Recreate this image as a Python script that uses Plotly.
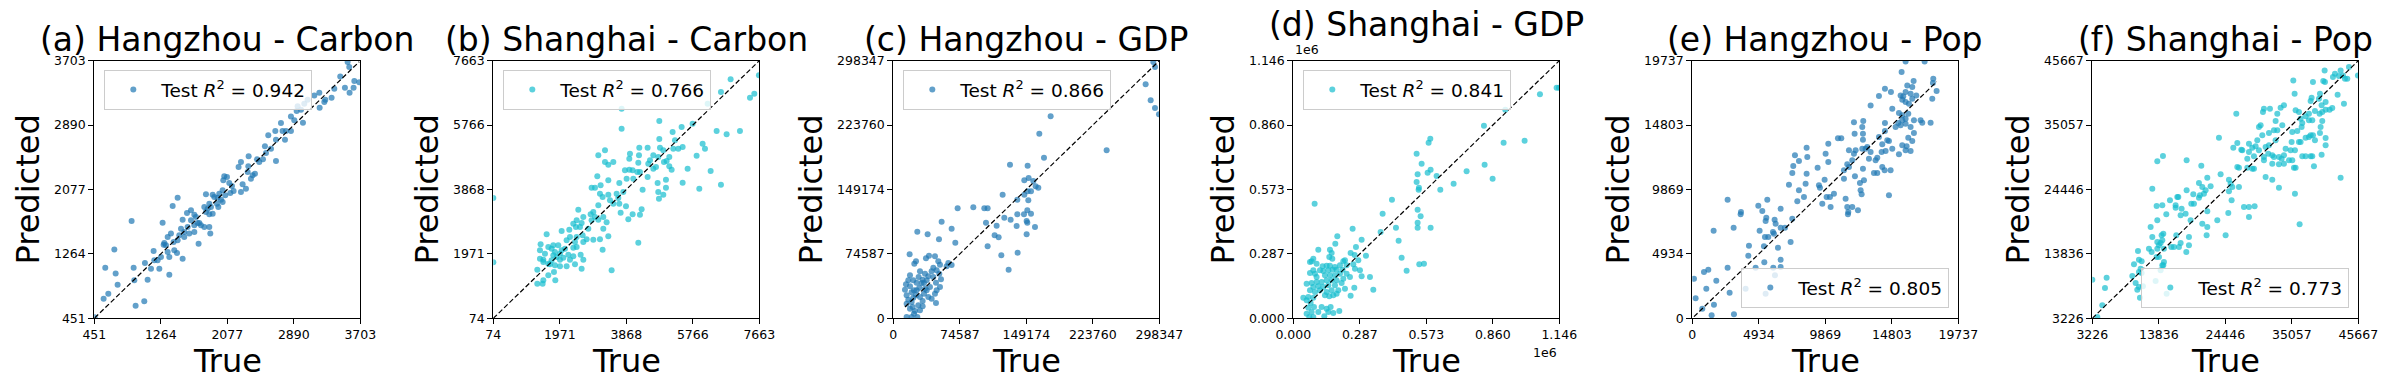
import numpy as np
import plotly.graph_objects as go

FONT = "DejaVu Sans"
BLUE = "#1f77b4"
CYAN = "#17becf"
W, H = 2390, 390

# (a) Hangzhou - Carbon
hz_carbon_true = [3548, 3568, 3458, 3630, 3515, 3621, 3572, 3385, 3352, 3275,
                  3263, 3202, 3141, 3059, 3018, 2937, 2925, 2978, 3206, 3002,
                  2896, 2855, 2733, 2664, 2753, 2794, 2855, 2782, 2672, 2611,
                  2537, 2578, 2550, 2672, 2513, 2468, 2440, 2338, 2244, 2215,
                  2334, 2326, 2387, 2415, 2366, 2264, 2305, 2244, 2040, 2073,
                  2028, 2101, 2134, 2154, 2114, 2052, 2020, 1979, 1959, 1898,
                  1918, 1816, 2000, 2020, 1951, 1967, 1857, 1877, 1837, 1796,
                  1857, 1898, 1816, 1470, 1409, 1633, 1584, 1674, 1694, 1735,
                  1755, 1857, 1796, 1633, 1674, 1714, 1531, 1592, 1511, 1551,
                  1612, 1674, 1551, 1490, 1470, 1421, 1388, 1286, 1348, 1327,
                  1299, 1307, 1429, 1462, 1531, 1368, 1348, 1266, 1225, 1185,
                  1176, 1144, 1246, 1368, 1070, 932, 1103, 940, 907, 696,
                  585, 712, 736, 565, 622, 956, 1062, 455, 1869, 1726, 3690]
hz_carbon_pred = [3686, 3623, 3505, 3446, 3362, 3362, 3299, 3350, 3236, 3211,
                  3181, 3299, 3265, 3211, 3160, 3127, 3068, 3085, 3110, 2920,
                  2950, 3000, 2916, 2815, 2815, 2815, 2815, 2706, 2706, 2592,
                  2622, 2761, 2538, 2437, 2458, 2424, 2458, 2496, 2424, 2361,
                  2369, 2298, 2256, 2277, 2214, 2142, 2088, 2045, 2243, 2235,
                  2193, 2159, 2121, 2058, 2033, 2003, 2066, 2024, 1974, 2012,
                  1982, 2016, 1949, 1919, 1898, 1856, 1898, 1856, 1835, 1856,
                  1764, 1772, 1793, 1974, 1869, 1814, 1780, 1759, 1730, 1654,
                  1625, 1604, 1604, 1688, 1625, 1654, 1696, 1604, 1583, 1541,
                  1520, 1541, 1478, 1499, 1435, 1414, 1520, 1658, 1478, 1372,
                  1381, 1402, 1309, 1276, 1204, 1225, 1288, 1225, 1183, 1183,
                  1301, 1078, 1078, 1002, 1149, 1090, 939, 931, 1679, 1318,
                  1090, 1015, 876, 699, 762, 611, 666, 465, 1520, 1393, 3430]

# (b) Shanghai - Carbon
sh_carbon_true = [7653, 6845, 6569, 7397, 7520, 6189, 3735, 4810, 3735, 5761,
                  5447, 5190, 6446, 6731, 7111, 6046, 6113, 5875, 5618, 6275,
                  6569, 5951, 5476, 5257, 5352, 5476, 5209, 4810, 4829, 4924,
                  5095, 5019, 4943, 5162, 5095, 4781, 4639, 4544, 4496, 4639,
                  4715, 4477, 4239, 3973, 3954, 4230, 4211, 4258, 4182, 4049,
                  3954, 3830, 3878, 4068, 4477, 4334, 4762, 5000, 5000, 4781,
                  4924, 4800, 4306, 4049, 4258, 3926, 3859, 3669, 3707, 3640,
                  3783, 3669, 3593, 3498, 3403, 3355, 3260, 3070, 3260, 3355,
                  3498, 3041, 3355, 2879, 2975, 3136, 3117, 3193, 3070, 2927,
                  2851, 2975, 3070, 3212, 3307, 2879, 2642, 2594, 2452, 2499,
                  2356, 2432, 2547, 2242, 2024, 2784, 2737, 2927, 3117, 3212,
                  3355, 3193, 2623, 2642, 2452, 2404, 2261, 2166, 2452, 2356,
                  2119, 2024, 1976, 1928, 1786, 1738, 1643, 1596, 1424, 1405,
                  1548, 1833, 1786, 1738, 1501, 1405, 1501, 1643, 1881, 1976,
                  2071, 2214, 2261, 2356, 2166, 1976, 1833, 1691, 2566, 2642,
                  2594, 2404, 1805, 1643, 1501, 1481, 1329, 1329, 3450, 4211,
                  74, 74, 1843]
sh_carbon_pred = [7231, 7114, 6740, 6574, 6691, 6397, 6250, 5886, 5660, 5808,
                  5710, 5562, 5592, 5494, 5592, 5219, 5071, 4865, 4482, 4414,
                  4011, 3893, 4070, 5317, 5071, 5120, 5071, 5356, 5101, 5022,
                  4826, 4708, 4679, 4453, 4551, 4826, 4875, 4728, 4630, 4482,
                  4531, 5101, 5101, 4924, 4777, 4875, 4659, 4384, 4384, 4433,
                  4453, 4433, 4188, 4188, 4237, 3864, 4060, 4158, 3923, 3795,
                  3716, 3599, 3284, 3137, 3127, 2990, 3373, 3451, 3186, 3618,
                  3795, 4060, 3746, 3451, 3550, 3716, 5022, 4875, 4679, 4600,
                  4679, 4256, 4139, 3923, 3923, 3991, 3746, 3648, 3402, 3206,
                  3137, 3059, 2980, 3059, 2902, 2960, 3059, 2882, 2960, 3275,
                  2862, 2764, 2764, 2686, 2646, 2715, 2401, 2391, 2401, 2715,
                  2489, 2096, 2519, 2322, 2470, 2322, 2470, 2371, 2175, 2155,
                  2126, 2077, 1979, 2224, 2224, 2126, 2175, 2548, 2254, 2077,
                  1979, 2028, 1930, 1782, 1802, 1831, 1733, 1684, 1881, 1802,
                  1861, 1949, 1802, 1900, 1606, 1606, 1635, 1665, 1949, 1802,
                  1537, 1665, 1439, 1341, 1193, 1095, 1095, 1507, 1488, 2303,
                  3618, 1723, 1193]

# (c) Hangzhou - GDP
hz_gdp_true = [293510, 291642, 283042, 288651, 293512, 298000, 176481, 163768, 239296, 169003,
               130865, 150682, 151803, 146943, 157038, 159655, 162647, 150682, 154421, 146943,
               122639, 139091, 151430, 150308, 154421, 146569, 139091, 131613, 124509, 149560,
               150308, 138343, 158908, 149560, 72163, 89736, 102075, 105814, 103944, 115909,
               113666, 118152, 105814, 121144, 139465, 129369, 54216, 65433, 38512, 26921,
               51224, 69545, 18321, 25425, 23556, 36642, 40007, 46738, 50477, 61694,
               65433, 59824, 52346, 44868, 48607, 42999, 29912, 35521, 39260, 28416,
               51598, 53468, 47859, 44868, 37390, 32903, 31782, 26173, 22434, 18695,
               16826, 14208, 13087, 14956, 20565, 26173, 29164, 34399, 37390, 41129,
               48607, 52346, 46738, 42999, 47859, 39260, 34399, 32903, 22434, 16826,
               14956, 18695, 21686, 24304, 28043, 29912, 32903, 26921, 20565, 14956,
               23182, 20565, 25425, 29912, 35521, 23182, 18695]
hz_gdp_pred = [291044, 296834, 270972, 252444, 243566, 236232, 233916, 213844, 194544, 186052,
               177946, 176788, 162506, 159804, 159032, 152856, 151312, 147066, 147066, 143206,
               143206, 137416, 136644, 125064, 121204, 120432, 120432, 114256, 116572, 112712,
               110782, 106922, 105764, 97272, 127380, 128538, 127380, 127380, 110782, 107308,
               96114, 93798, 83376, 72954, 76042, 56356, 111940, 103834, 97272, 100360,
               91482, 87622, 74112, 66006, 63304, 69480, 72568, 71796, 66006, 64076,
               61760, 60216, 62146, 58672, 55584, 54426, 54426, 51724, 48636, 47864,
               51724, 45162, 41302, 47864, 44004, 44776, 40916, 41302, 44004, 49794,
               44004, 39372, 33196, 26634, 30108, 32424, 35512, 40916, 32424, 36284,
               32424, 36284, 28564, 22774, 17756, 24704, 28564, 20072, 23932, 21616,
               16984, 11194, 13124, 8492, 15054, 9264, 13896, 1544, 1544, 1544,
               5404, 18914, 26634, 24704, 34354, 32424, 37056]

# (d) Shanghai - GDP
sh_gdp_true = [1134440, 1144492, 1062640, 913296, 821392, 590196, 583016, 906116, 996584, 531320,
               552860, 535628, 591632, 578708, 617480, 531320, 541372, 539936, 633276, 690716,
               746720, 824264, 858728, 425056, 535628, 548552, 535628, 535628, 591632, 384848,
               442288, 376232, 453776, 466700, 488240, 542808, 562912, 91904, 255608, 189552,
               180936, 269968, 294380, 313048, 264224, 246992, 280020, 258480, 265660, 287200,
               294380, 330280, 344640, 246992, 262788, 157960, 165140, 155088, 168012, 107700,
               86160, 78980, 71800, 86160, 100520, 126368, 143600, 157960, 179500, 201040,
               215400, 222580, 229760, 212528, 186680, 169448, 150780, 129240, 114880, 93340,
               71800, 100520, 136420, 157960, 179500, 201040, 229760, 244120, 215400, 186680,
               165140, 143600, 122060, 100520, 78980, 57440, 86160, 107700, 129240, 150780,
               179500, 208220, 222580, 193860, 165140, 143600, 114880, 93340, 71800, 64620,
               86160, 136420, 155088, 172320, 186680, 43080, 57440, 74672, 89032, 64620,
               78980, 57440, 86160, 68928, 133548, 122060, 143600, 160832, 172320, 198168,
               150780, 107700]
sh_gdp_pred = [1025890, 1025890, 996240, 928045, 856885, 799068, 781278, 781278, 790173, 732355,
               687880, 640440, 661195, 647853, 633028, 606343, 581140, 572245, 572245, 598930,
               653783, 683433, 621168, 527770, 483295, 453645, 425478, 403240, 403240, 465505,
               403240, 383968, 345423, 269815, 212000, 240165, 243130, 509980, 398793, 364695,
               332080, 317255, 349870, 278710, 281675, 290570, 257955, 240165, 220893, 213480,
               186795, 183830, 127495, 100810, 136390, 305395, 290570, 272780, 265368, 305395,
               265368, 253508, 250543, 213480, 243130, 231270, 234235, 234235, 228305, 235718,
               253508, 257955, 235718, 216445, 216445, 216445, 213480, 210515, 213480, 198655,
               201620, 183830, 191243, 191243, 191243, 198655, 198655, 183830, 176418, 169005,
               169005, 169005, 161593, 161593, 157145, 154180, 139355, 142320, 139355, 146768,
               146768, 157145, 131943, 124530, 124530, 117118, 124530, 117118, 124530, 94880,
               91915, 102293, 97845, 102293, 109705, 91915, 80055, 68195, 50405, 47440,
               28168, 20755, 5930, 5930, 8895, 50405, 42993, 50405, 23720, 32615,
               28168, 28168]

# (e) Hangzhou - Pop
hz_pop_true = [15827, 17237, 15530, 17880, 17855, 18127, 17806, 16421, 15951, 16322,
               16619, 16198, 15827, 15654, 15456, 15580, 15827, 16075, 16322, 14294,
               14739, 13849, 13231, 14838, 15333, 15580, 16025, 15827, 15580, 15283,
               15085, 15456, 15827, 16445, 16940, 17064, 17682, 16198, 16445, 16025,
               16322, 15901, 15580, 15827, 16198, 15333, 14838, 14467, 14591, 14294,
               14294, 13849, 14096, 14343, 14047, 13725, 13602, 14096, 14269, 14714,
               13725, 13478, 13107, 12983, 13231, 12860, 12612, 12662, 12662, 12612,
               12686, 11994, 12044, 12118, 11623, 11994, 11870, 11623, 11252, 11499,
               12662, 12736, 12068, 11252, 12489, 12563, 12439, 14591, 10807, 11054,
               10090, 9892, 10090, 9298, 8482, 8532, 7617, 7914, 7493, 7419,
               8482, 7172, 7914, 8408, 8285, 7790, 9397, 9472, 9818, 10510,
               10213, 9966, 9645, 10263, 11376, 11499, 11574, 11549, 11870, 12291,
               6553, 6108, 5490, 5441, 5193, 4897, 5564, 3611, 3586, 2621,
               3067, 1583, 6183, 7419, 6875, 6553, 5985, 6059, 4995, 5391,
               5638, 6356, 5317, 4204, 4155, 6553, 6553, 5342, 4699, 6009,
               7295, 6133, 2621, 1187, 866, 1781, 1039, 2770, 247, 1607,
               742, 1434, 3091, 124, 5441, 3957]
hz_pop_pred = [19684, 19684, 18867, 18356, 18024, 17411, 16824, 18177, 17845, 17718,
               17080, 17207, 17335, 17003, 17080, 16748, 16569, 16441, 16824, 17590,
               17335, 17029, 16314, 16058, 15726, 15548, 15675, 15292, 15165, 14961,
               14654, 14782, 14910, 15165, 15165, 14986, 14986, 14654, 14195, 13837,
               13582, 13173, 13250, 12867, 12816, 12561, 12995, 13633, 13582, 14961,
               14348, 13888, 13327, 12816, 12739, 12305, 12101, 11591, 11335, 11335,
               11131, 11131, 12229, 13122, 12739, 12995, 12995, 13684, 14144, 14654,
               15114, 15012, 14144, 12867, 12867, 12612, 12101, 11591, 11335, 11795,
               11463, 10569, 10876, 10697, 9804, 9497, 10365, 9421, 13786, 13786,
               13378, 12612, 11974, 11540, 13071, 12357, 12484, 12050, 11667, 11131,
               11080, 10238, 9804, 10314, 9293, 8961, 10186, 10008, 10620, 9548,
               9293, 9293, 8782, 8527, 9165, 8527, 8144, 7965, 8527, 8272,
               8399, 7557, 7710, 7455, 8221, 8629, 9089, 8144, 7965, 9089,
               6944, 6714, 7251, 7633, 6944, 6944, 6612, 6485, 6714, 6229,
               6229, 5412, 5514, 5566, 4800, 4493, 3932, 4289, 3881, 3881,
               5846, 3293, 3881, 3727, 3549, 2885, 2272, 1966, 1532, 1047,
               740, 230, 306, 3038, 1889, 2272]

# (f) Shanghai - Pop
sh_pop_true = [44175, 45610, 42845, 41941, 41622, 42579, 43217, 43536, 43909, 40292,
               40080, 40346, 38431, 35294, 35506, 42366, 43377, 39548, 39388, 38218,
               38059, 40452, 39814, 40452, 41090, 41516, 39920, 39495, 38750, 37793,
               37261, 37793, 36729, 36623, 35932, 35134, 35666, 36198, 36464, 38325,
               39920, 39654, 39548, 38431, 38059, 37793, 37261, 38750, 40452, 40452,
               39814, 38325, 38059, 37261, 36729, 36198, 36464, 35028, 35559, 34868,
               34070, 33805, 33007, 33432, 32209, 31943, 33007, 33805, 34602, 35134,
               35666, 35400, 38591, 42845, 35559, 36304, 33007, 31571, 30614, 30454,
               33273, 33805, 32741, 32475, 33539, 32209, 32741, 31411, 32475, 31411,
               30880, 30082, 29816, 30348, 29550, 29284, 28752, 28221, 27955, 29018,
               28221, 27157, 26359, 25721, 26200, 23434, 26997, 29816, 30614, 31305,
               30614, 31943, 30880, 31943, 28752, 29018, 27955, 26359, 26625, 25030,
               25296, 25562, 26625, 25030, 25455, 27423, 28221, 29125, 28221, 24923,
               23169, 21573, 20775, 21573, 21467, 19020, 19446, 18914, 18116, 17478,
               17319, 16521, 16946, 16787, 16521, 15617, 15032, 14394, 13490, 18276,
               20616, 23700, 21573, 22105, 21307, 21041, 20244, 20244, 20403, 19340,
               18276, 20775, 24498,
               18648, 18648, 17319, 17053, 16255, 18223, 16627, 15830, 14553, 14287,
               14394, 14128, 13596, 13862, 14660, 13596, 12533, 13596, 12798, 12267,
               12692, 13490, 13862, 14394, 14553, 14660, 14128, 12798, 14500, 13596,
               10512, 10671, 11097, 9874, 9608, 10937, 10671, 11097, 10139, 10671,
               10405, 10831, 11309, 13330, 15085, 3226, 5513, 5247, 4821, 4024]
sh_pop_pred = [44621, 43248, 44072, 43523, 42974, 43138, 43248, 42699, 42699, 44072,
               42315, 42150, 42150, 42425, 40229, 40064, 38582, 40229, 39405, 39570,
               39021, 38856, 38307, 37593, 37593, 37868, 37209, 36935, 37374, 36935,
               36495, 35837, 35397, 34739, 34080, 33915, 37484, 37209, 36111, 35837,
               35727, 34739, 33750, 33366, 33366, 33092, 32982, 32543, 32927, 31719,
               30182, 29907, 29907, 29907, 29907, 32268, 32268, 32268, 30896, 30896,
               31170, 30072, 29798, 29523, 29798, 28700, 28590, 28700, 29249, 29249,
               28041, 28041, 28260, 26394, 23759, 18708, 24747, 37758, 37758, 37209,
               37923, 38307, 36935, 35727, 35013, 34190, 34190, 33750, 32543, 31719,
               31445, 35013, 34739, 33366, 32543, 31554, 31335, 30621, 29523, 29907,
               31994, 30896, 32103, 31335, 36935, 32982, 31005, 30896, 29798, 30347,
               29249, 30072, 26504, 26064, 27876, 27876, 28041, 28151, 28041, 26064,
               25406, 24857, 24857, 24143, 22661, 21563, 21563, 21672, 19916, 20574,
               19367, 20849, 18818, 18269, 16896, 22112, 22112, 19367, 20465, 21288,
               20190, 21837, 23210, 23210, 21453, 22661, 20355, 21837, 21727, 29249,
               28370, 26943, 26394, 24966, 24308, 23759, 25515, 23100, 23484, 23649,
               24308, 24857, 16896,
               15249, 16622, 15633, 14975, 14975, 14151, 16896, 14975, 17171, 16896,
               16073, 15633, 15798, 15249, 14700, 14700, 18269, 19367, 16622, 14700,
               14151, 13328, 13328, 11955, 11955, 12504, 11132, 24582, 29962, 29084,
               14316, 12888, 12614, 12120, 10198, 11406, 10857, 10692, 9045, 8387,
               7947, 6630, 8496, 9375, 7289, 9594, 9924, 8222, 5367, 3446]

titles = ["(a) Hangzhou - Carbon", "(b) Shanghai - Carbon", "(c) Hangzhou - GDP",
          "(d) Shanghai - GDP", "(e) Hangzhou - Pop", "(f) Shanghai - Pop"]
r2_scores = [0.942, 0.766, 0.866, 0.841, 0.805, 0.773]
axis_limits = [(451, 3703), (74, 7663), (0, 298347), (0, 1146000), (0, 19737), (3226, 45667)]
tick_labels = [
    ["451", "1264", "2077", "2890", "3703"],
    ["74", "1971", "3868", "5766", "7663"],
    ["0", "74587", "149174", "223760", "298347"],
    ["0.000", "0.287", "0.573", "0.860", "1.146"],
    ["0", "4934", "9869", "14803", "19737"],
    ["3226", "13836", "24446", "35057", "45667"],
]
series = [
    (hz_carbon_true, hz_carbon_pred), (sh_carbon_true, sh_carbon_pred),
    (hz_gdp_true, hz_gdp_pred), (sh_gdp_true, sh_gdp_pred),
    (hz_pop_true, hz_pop_pred), (sh_pop_true, sh_pop_pred),
]
colors = [BLUE, CYAN, BLUE, CYAN, BLUE, CYAN]
legend_corner = ["top", "top", "top", "top", "bottom", "bottom"]

# layout geometry (pixels)
plot_left = [94.3, 493.3, 893.3, 1293.3, 1692.3, 2092.3]
plot_w = 266
plot_top, plot_bottom = 60.7, 318.3
TICK_SIZE = 12.5


def text_width(s, size):
    return sum(0.318 if c == "." else 0.636 for c in s) * size


fig = go.Figure()
annotations = []
layout = {}

for i in range(6):
    n = "" if i == 0 else str(i + 1)
    xt, yp = series[i]
    lo, hi = axis_limits[i]
    left = plot_left[i]
    cx = (left + plot_w / 2) / W

    fig.add_trace(
        go.Scatter(
            x=xt, y=yp,
            mode="markers",
            marker=dict(size=6, color=colors[i], opacity=0.7, line=dict(width=0)),
            name=f"Test <i>R</i><sup>2</sup> = {r2_scores[i]:.3f}",
            xaxis=f"x{n}", yaxis=f"y{n}",
            legend=f"legend{n}",
        )
    )
    fig.add_trace(
        go.Scatter(
            x=[min(xt), max(xt)], y=[min(xt), max(xt)],
            mode="lines",
            line=dict(color="black", width=1.2, dash="5px,2.5px"),
            showlegend=False,
            xaxis=f"x{n}", yaxis=f"y{n}",
        )
    )

    ticks = np.linspace(lo, hi, 5)
    common = dict(
        range=[lo, hi], tickvals=ticks, ticktext=tick_labels[i],
        ticks="outside", ticklen=5, tickwidth=1.1, tickcolor="black",
        showline=True, linecolor="black", linewidth=1.1, mirror=True,
        showgrid=False, zeroline=False, automargin=False,
        tickfont=dict(family=FONT, size=TICK_SIZE, color="black"),
    )
    layout[f"xaxis{n}"] = dict(common, domain=[left / W, (left + plot_w) / W], anchor=f"y{n}")
    layout[f"yaxis{n}"] = dict(common, domain=[1 - plot_bottom / H, 1 - plot_top / H], anchor=f"x{n}")

    if legend_corner[i] == "top":
        lg = dict(x=(left + 10) / W, y=1 - 70 / H, xanchor="left", yanchor="top")
    else:
        lg = dict(x=(left + plot_w - 9) / W, y=1 - 308 / H, xanchor="right", yanchor="bottom")
    layout[f"legend{n}"] = dict(
        lg,
        bgcolor="rgba(255,255,255,0.8)", bordercolor="#cccccc", borderwidth=1,
        font=dict(family=FONT, size=18.5, color="black"),
        itemwidth=46,
    )

    title_y = 24.5 if i == 3 else 40
    annotations.append(dict(text=titles[i], x=cx, y=1 - title_y / H, xref="paper", yref="paper",
                            showarrow=False, xanchor="center", yanchor="middle",
                            font=dict(family=FONT, size=33, color="black")))
    annotations.append(dict(text="True", x=cx, y=1 - 361 / H, xref="paper", yref="paper",
                            showarrow=False, xanchor="center", yanchor="middle",
                            font=dict(family=FONT, size=32, color="black")))
    label_x = left - 35.5 - max(text_width(t, TICK_SIZE) for t in tick_labels[i])
    annotations.append(dict(text="Predicted", x=label_x / W, y=1 - (plot_top + plot_bottom) / 2 / H,
                            xref="paper", yref="paper", textangle=-90,
                            showarrow=False, xanchor="center", yanchor="middle",
                            font=dict(family=FONT, size=32, color="black")))

# offset text for the scientific-notation panel
d_left = plot_left[3]
annotations.append(dict(text="1e6", x=d_left / W, y=1 - 50 / H, xref="paper", yref="paper",
                        showarrow=False, xanchor="left", yanchor="middle",
                        font=dict(family=FONT, size=TICK_SIZE, color="black")))
annotations.append(dict(text="1e6", x=(d_left + plot_w) / W, y=1 - 352 / H, xref="paper", yref="paper",
                        showarrow=False, xanchor="right", yanchor="middle",
                        font=dict(family=FONT, size=TICK_SIZE, color="black")))

fig.update_layout(
    width=W, height=H,
    margin=dict(l=0, r=0, t=0, b=0, pad=0, autoexpand=False),
    paper_bgcolor="white", plot_bgcolor="white",
    font=dict(family=FONT, color="black"),
    annotations=annotations,
    **layout,
)

fig.write_html("out.html", config={"displayModeBar": False},
               post_script="document.body.style.margin='0';")
